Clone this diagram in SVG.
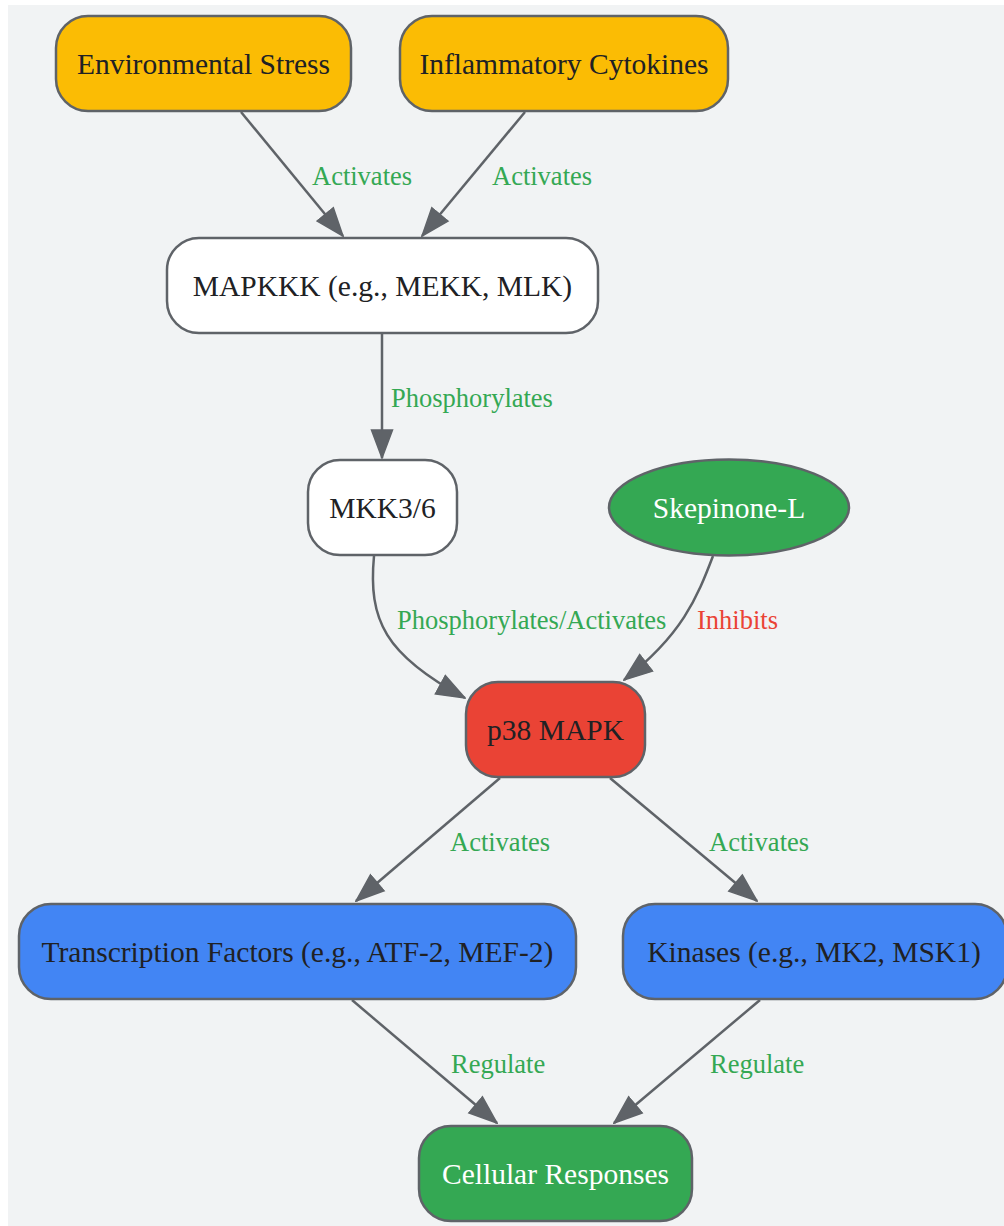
<svg xmlns="http://www.w3.org/2000/svg" width="1004" height="1226" viewBox="0 0 1004 1226">
<defs>
<style>
.node{stroke:#5f6368;stroke-width:2.5}
.t{font-family:"Liberation Serif","Times New Roman",serif;font-size:29.5px;text-anchor:middle;fill:#202124}
.tw{fill:#ffffff}
.e{fill:none;stroke:#5f6368;stroke-width:2.5}
.l{font-family:"Liberation Serif","Times New Roman",serif;font-size:26.5px;fill:#34a853}
.r{fill:#ea4335}
</style>
<marker id="ah" viewBox="0 0 30 24" refX="29" refY="12" markerWidth="30" markerHeight="24" markerUnits="userSpaceOnUse" orient="auto">
<path d="M1,1.5 L29,12 L1,22.5 z" fill="#5f6368" stroke="#5f6368" stroke-width="1.5"/>
</marker>
</defs>
<rect x="8" y="5" width="996" height="1221" fill="#f1f3f4"/>
<g id="connectors">
<path class="e" d="M241,112 L343,236" marker-end="url(#ah)"/>
<path class="e" d="M525,112 L422,236" marker-end="url(#ah)"/>
<path class="e" d="M382,334 L382,458" marker-end="url(#ah)"/>
<path class="e" d="M374,556 C368,620 385,655 465,698" marker-end="url(#ah)"/>
<path class="e" d="M713,556 C697,598 682,635 624,680" marker-end="url(#ah)"/>
<path class="e" d="M500,778 L356,901" marker-end="url(#ah)"/>
<path class="e" d="M610,778 L757,901" marker-end="url(#ah)"/>
<path class="e" d="M352,1000 L497,1123" marker-end="url(#ah)"/>
<path class="e" d="M760,1000 L614,1123" marker-end="url(#ah)"/>
<text class="l" x="312" y="185">Activates</text>
<text class="l" x="492" y="185">Activates</text>
<text class="l" x="391" y="407">Phosphorylates</text>
<text class="l" x="397" y="629">Phosphorylates/Activates</text>
<text class="l r" x="697" y="629">Inhibits</text>
<text class="l" x="450" y="851">Activates</text>
<text class="l" x="709" y="851">Activates</text>
<text class="l" x="451" y="1073">Regulate</text>
<text class="l" x="710" y="1073">Regulate</text>
</g>
<g id="env_stress">
<rect class="node" x="56" y="16" width="295" height="95" rx="32" fill="#fbbc04"/>
<text class="t" x="203.5" y="74">Environmental Stress</text>
</g>
<g id="cytokines">
<rect class="node" x="400" y="16" width="328" height="95" rx="32" fill="#fbbc04"/>
<text class="t" x="564" y="74">Inflammatory Cytokines</text>
</g>
<g id="mapkkk">
<rect class="node" x="167" y="238" width="431" height="95" rx="32" fill="#ffffff"/>
<text class="t" x="382.5" y="296">MAPKKK (e.g., MEKK, MLK)</text>
</g>
<g id="mkk36">
<rect class="node" x="308" y="460" width="149" height="95" rx="32" fill="#ffffff"/>
<text class="t" x="382.5" y="518">MKK3/6</text>
</g>
<g id="skepinone">
<ellipse class="node" cx="729" cy="507.5" rx="120" ry="48" fill="#34a853"/>
<text class="t tw" x="729" y="518">Skepinone-L</text>
</g>
<g id="p38">
<rect class="node" x="466" y="682" width="179" height="95" rx="32" fill="#ea4335"/>
<text class="t" x="555.5" y="740">p38 MAPK</text>
</g>
<g id="tfs">
<rect class="node" x="19" y="904" width="557" height="95" rx="32" fill="#4285f4"/>
<text class="t" x="297.5" y="962">Transcription Factors (e.g., ATF-2, MEF-2)</text>
</g>
<g id="kinases">
<rect class="node" x="623" y="904" width="384" height="95" rx="32" fill="#4285f4"/>
<text class="t" x="814" y="962">Kinases (e.g., MK2, MSK1)</text>
</g>
<g id="cellular">
<rect class="node" x="419" y="1126" width="273" height="95" rx="32" fill="#34a853"/>
<text class="t tw" x="555.5" y="1184">Cellular Responses</text>
</g>
</svg>
